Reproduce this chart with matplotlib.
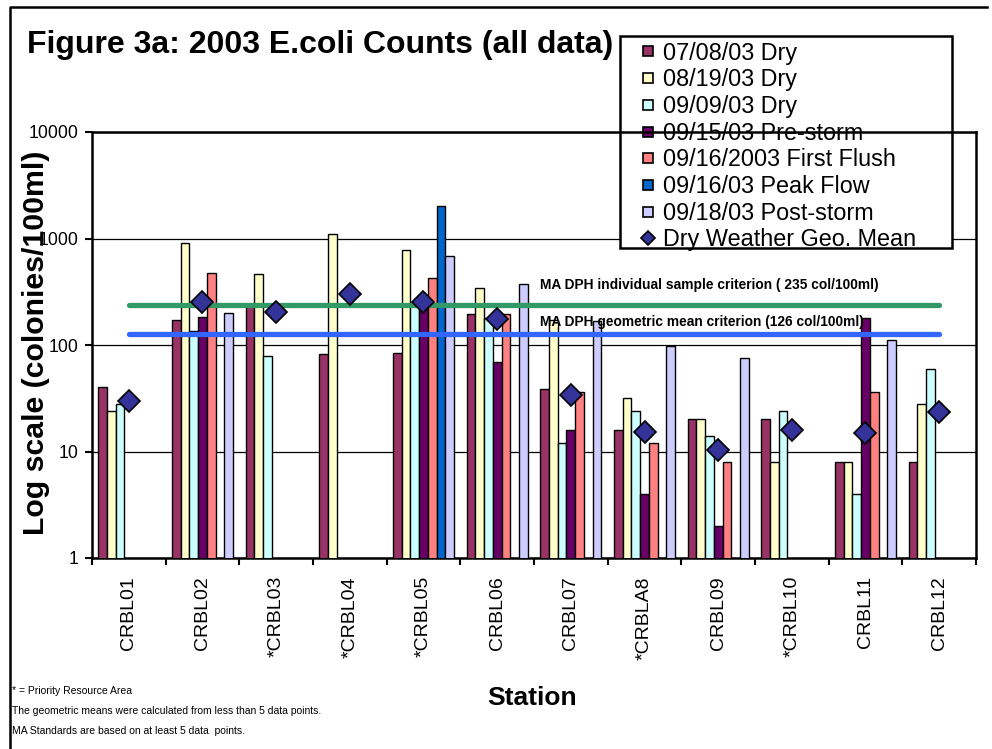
import numpy as np
import matplotlib
matplotlib.use("Agg")
import matplotlib.pyplot as plt
from matplotlib.lines import Line2D
from matplotlib.patches import Rectangle

plt.rcParams['font.family'] = ['Liberation Sans', 'DejaVu Sans']

# stations and series (colonies/100ml), nan = no sample
stations = ['CRBL01', 'CRBL02', '*CRBL03', '*CRBL04', '*CRBL05', 'CRBL06',
            'CRBL07', '*CRBLA8', 'CRBL09', '*CRBL10', 'CRBL11', 'CRBL12']
nan = np.nan
dry_0708 = [40, 170, 230, 82, 85, 194, 39, 16, 20, 20, 8, 8]
dry_0819 = [24, 914, 461, 1095, 775, 341, 172, 32, 20, 8, 8, 28]
dry_0909 = [28, 136, 78, nan, 250, 180, 12, 24, 14, 24, 4, 60]
pre_0915 = [nan, 184, nan, nan, 230, 69, 16, 4, 2, nan, 178, nan]
flush_0916 = [nan, 477, nan, nan, 423, 194, 36, 12, 8, nan, 36, nan]
peak_0916 = [nan, nan, nan, nan, 2005, nan, nan, nan, nan, nan, nan, nan]
post_0918 = [nan, 201, nan, nan, 680, 371, 168, 98, 75, nan, 111, nan]
geo_mean = [30, 255, 205, 303, 255, 174, 34, 15.3, 10.3, 15.9, 14.8, 23.6]

series = [dry_0708, dry_0819, dry_0909, pre_0915, flush_0916, peak_0916, post_0918]
labels = ['07/08/03 Dry', '08/19/03 Dry', '09/09/03 Dry', '09/15/03 Pre-storm',
          '09/16/2003 First Flush', '09/16/03 Peak Flow', '09/18/03 Post-storm']
colors = ['#993366', '#FFFFCC', '#CCFFFF', '#660066', '#FF8080', '#0066CC', '#CCCCFF']

crit_single = 235
crit_geo = 126

W, H = 992, 749
fig = plt.figure(figsize=(9.92, 7.49), dpi=100)
ax = fig.add_axes([92 / W, 1 - 558 / H, (976 - 92) / W, (558 - 132) / H])
ax.set_yscale('log')
ax.set_ylim(1, 10000)
ax.set_xlim(-0.5, len(stations) - 0.5)

x = np.arange(len(stations))
bw = 0.118
for k, (vals, c) in enumerate(zip(series, colors)):
    ax.bar(x + (k - 3) * bw, vals, width=bw, color=c, edgecolor='black', linewidth=1.0, zorder=3)

ax.plot(x, geo_mean, ls='', marker='D', ms=11.5, mfc='#333399', mec='black', mew=1.2, zorder=6)

ax.plot([x[0], x[-1]], [crit_single, crit_single], color='#339966', lw=3.8,
        solid_capstyle='round', zorder=4)
ax.plot([x[0], x[-1]], [crit_geo, crit_geo], color='#3366FF', lw=3.8,
        solid_capstyle='round', zorder=4)
ax.text(540 / W, 1 - 285 / H, 'MA DPH individual sample criterion ( 235 col/100ml)',
        transform=fig.transFigure, fontsize=9.9, fontweight='bold', va='center', zorder=7)
ax.text(540 / W, 1 - 322 / H, 'MA DPH geometric mean criterion (126 col/100ml)',
        transform=fig.transFigure, fontsize=9.9, fontweight='bold', va='center', zorder=7)

# axes look
ax.yaxis.grid(True, which='major', color='black', lw=0.9)
ax.set_axisbelow(True)
ax.set_yticks([1, 10, 100, 1000, 10000])
ax.set_yticklabels(['1', '10', '100', '1000', '10000'])
ax.yaxis.set_minor_locator(matplotlib.ticker.NullLocator())
ax.tick_params(axis='y', which='major', direction='out', length=5, width=1.5,
               labelsize=12.7, pad=5)
ax.set_xticks(x)
ax.set_xticklabels(stations, rotation=90, fontsize=14)
ax.set_xticks(np.arange(-0.5, len(stations)), minor=True)
ax.tick_params(axis='x', which='major', length=0, pad=13)
ax.tick_params(axis='x', which='minor', direction='out', length=5, width=1.5)
for s in ['left', 'bottom', 'right']:
    ax.spines[s].set_linewidth(1.8)
ax.spines['top'].set_visible(False)

ax.set_ylabel('Log scale (colonies/100ml)', fontsize=21.8, fontweight='bold')
ax.yaxis.set_label_coords(50 / W, 1 - 343 / H, transform=fig.transFigure)

fig.text(27 / W, 1 - 45 / H, 'Figure 3a: 2003 E.coli Counts (all data)',
         fontsize=23, fontweight='bold', va='center', ha='left')
fig.text(532 / W, 1 - 698 / H, 'Station', fontsize=19, fontweight='bold',
         ha='center', va='center')
notes = ['* = Priority Resource Area',
         'The geometric means were calculated from less than 5 data points.',
         'MA Standards are based on at least 5 data  points.']
for i, n in enumerate(notes):
    fig.text(12 / W, 1 - (691 + 20 * i) / H, n, fontsize=7.45, va='center')

# legend box
fig.add_artist(Rectangle((620 / W, 1 - 248 / H), (952 - 620) / W, (248 - 36) / H,
                         transform=fig.transFigure, facecolor='white',
                         edgecolor='black', lw=1.8, zorder=8))
handles = [Line2D([], [], ls='', marker='s', ms=7.5, mfc=c, mec='black', mew=1.2)
           for c in colors]
handles.append(Line2D([], [], ls='', marker='D', ms=7.5, mfc='#333399', mec='black', mew=1.2))
leg = fig.legend(handles, labels + ['Dry Weather Geo. Mean'], loc='upper left',
                 bbox_to_anchor=(627 / W, 1 - 30 / H), bbox_transform=fig.transFigure,
                 frameon=False, fontsize=16.8, labelspacing=0.158, handlelength=0.8,
                 handletextpad=0.25, borderpad=0)
leg.set_zorder(9)
# top frame line crossing the legend
fig.add_artist(Line2D([92 / W, 976 / W], [1 - 132 / H, 1 - 132 / H],
                      transform=fig.transFigure, color='black', lw=1.8, zorder=10))

# outer chart border
fig.add_artist(Line2D([10 / W, 10 / W, 987 / W], [0, 1 - 7 / H, 1 - 7 / H],
                      transform=fig.transFigure, color='black', lw=1.8))

fig.savefig('out.png', dpi=100)
